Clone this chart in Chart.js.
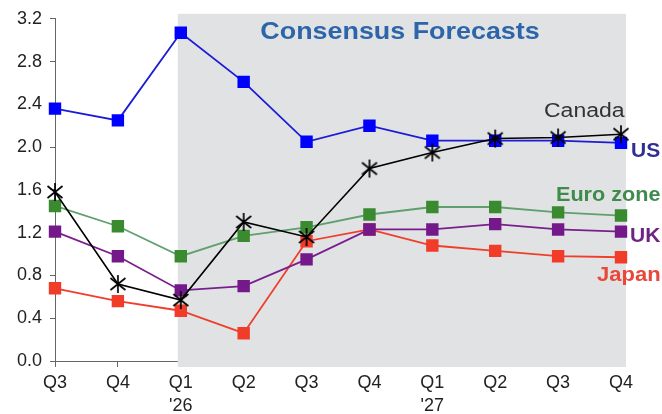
<!DOCTYPE html>
<html>
<head>
<meta charset="utf-8">
<script src="https://cdn.jsdelivr.net/npm/chart.js@4"></script>
<style>
  html,body{margin:0;padding:0;background:#fff;}
  #wrap{width:662px;height:414px;position:relative;}
</style>
</head>
<body>
<div id="wrap"><canvas id="c"></canvas></div>
<script>
// ====== Data ======
const quarters = [['Q3'],['Q4'],['Q1',"'26"],['Q2'],['Q3'],['Q4'],['Q1',"'27"],['Q2'],['Q3'],['Q4']];
const yTicks   = [0,0.4,0.8,1.2,1.6,2.0,2.4,2.8,3.2];
const canada   = [1.58,0.72,0.57,1.30,1.16,1.80,1.95,2.08,2.09,2.12];
const us       = [2.36,2.25,3.07,2.61,2.05,2.20,2.06,2.06,2.06,2.04];
const euro     = [1.45,1.26,0.98,1.17,1.25,1.37,1.44,1.44,1.39,1.36];
const uk       = [1.21,0.98,0.66,0.70,0.95,1.23,1.23,1.28,1.23,1.21];
const japan    = [0.68,0.56,0.47,0.26,1.12,1.23,1.08,1.03,0.98,0.97];
const forecastFrom = 2; // index where shaded forecast area starts

const FONT = "'Liberation Sans', Arial, Helvetica, sans-serif";

// ====== asterisk marker for Canada ======
const star = document.createElement('canvas');
star.width = 20; star.height = 20;
(()=>{ const g=star.getContext('2d'); g.strokeStyle='#000'; g.lineWidth=1.7; g.beginPath();
  g.moveTo(10,1); g.lineTo(10,19);
  g.moveTo(2.5,4); g.lineTo(17.5,16);
  g.moveTo(17.5,4); g.lineTo(2.5,16);
  g.stroke(); })();

// text stretched a little sideways, like the original
function wideText(ctx, txt, x, y, sx){ ctx.save(); ctx.translate(x,y); ctx.scale(sx,1); ctx.fillText(txt,0,0); ctx.restore(); }

// ====== Plugins ======
const shade = {
  id:'shade',
  beforeDatasetsDraw(chart){
    const {ctx, chartArea:a, scales:{x}} = chart;
    const x0 = x.getPixelForValue(forecastFrom) - 3, x1 = x.getPixelForValue(quarters.length-1) + 5;
    ctx.save(); ctx.fillStyle='#e1e2e4'; ctx.fillRect(x0, a.top-5, x1-x0, a.bottom-a.top+11); ctx.restore();
  }
};
const notes = {
  id:'notes',
  afterDatasetsDraw(chart){
    const {ctx} = chart;
    ctx.save(); ctx.textBaseline='middle';
    ctx.font = `bold 24px ${FONT}`; ctx.fillStyle='#2c65a9'; ctx.textAlign='center';
    wideText(ctx,'Consensus Forecasts', 400, 32, 1.12);
    ctx.textAlign='left';
    ctx.font = `20px ${FONT}`; ctx.fillStyle='#333'; wideText(ctx,'Canada', 544, 111, 1.15);
    ctx.font = `bold 20px ${FONT}`;
    ctx.fillStyle='#2e2f8f'; wideText(ctx,'US', 631, 151, 1.05);
    ctx.fillStyle='#3f8b4c'; wideText(ctx,'Euro zone', 556, 195, 1.08);
    ctx.fillStyle='#6e2483'; wideText(ctx,'UK', 630, 236, 1.05);
    ctx.fillStyle='#e8473a'; wideText(ctx,'Japan', 597, 275, 1.1);
    ctx.restore();
  }
};

const ds = (label, data, line, mark, extra={}) => Object.assign({
  label, data, borderColor:line, backgroundColor:mark, pointBackgroundColor:mark, pointBorderColor:mark,
  borderWidth:1.8, pointStyle:'rect', pointRadius:7.5, pointHoverRadius:7.5, tension:0
}, extra);

new Chart(document.getElementById('c'), {
  type:'line',
  data:{
    labels: quarters,
    datasets:[
      ds('Canada', canada, '#000', '#000', {pointStyle:star, borderWidth:1.6}),
      ds('US', us, '#1c1cd6', '#0000ff'),
      ds('Euro zone', euro, '#5fa06e', '#3a8a30'),
      ds('UK', uk, '#7a1e8e', '#74198a'),
      ds('Japan', japan, '#f03e2c', '#f03c28')
    ]
  },
  options:{
    responsive:true, maintainAspectRatio:false, animation:false,
    layout:{padding:{top:18, right:41, left:0, bottom:0}},
    plugins:{legend:{display:false}, tooltip:{enabled:false}},
    scales:{
      x:{
        offset:false,
        grid:{display:true, drawOnChartArea:false, tickLength:6, color:'#666'},
        border:{color:'#666', width:1},
        ticks:{color:'#222', font:{family:FONT, size:18, lineHeight:1.3}, padding:4, maxRotation:0, autoSkip:false},
        afterFit(s){ s.height = 53; }
      },
      y:{
        min:0, max:3.2,
        afterBuildTicks(s){ s.ticks = yTicks.map(v=>({value:v})); },
        grid:{display:true, drawOnChartArea:false, tickLength:5, color:'#666'},
        border:{color:'#666', width:1},
        ticks:{color:'#222', font:{family:FONT, size:18}, padding:8, callback:v=>v.toFixed(1)},
        afterFit(s){ s.width = 55; }
      }
    }
  },
  plugins:[shade, notes]
});
</script>
</body>
</html>
